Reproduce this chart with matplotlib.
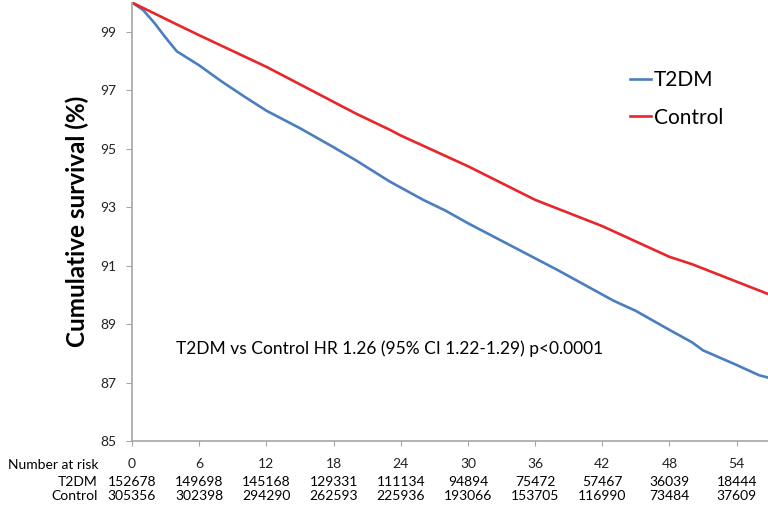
import numpy as np
import matplotlib
matplotlib.use('Agg')
import matplotlib.pyplot as plt
from matplotlib.transforms import blended_transform_factory

plt.rcParams['font.family'] = ['Lato', 'DejaVu Sans']

# survival curves (months, %)
t2dm_t = [0, 1, 2, 3, 4, 6, 8, 10, 12, 13, 15, 18, 20, 23, 26, 28, 30, 33,
          36, 38, 41, 43, 45, 48, 50, 51, 54, 56, 57]
t2dm_s = [100, 99.74, 99.3, 98.8, 98.33, 97.85, 97.3, 96.79, 96.3, 96.1,
          95.7, 95.05, 94.6, 93.88, 93.25, 92.88, 92.45, 91.85, 91.25, 90.85,
          90.22, 89.8, 89.45, 88.8, 88.38, 88.1, 87.6, 87.25, 87.15]
ctrl_t = [0, 4, 6, 12, 18, 20, 23, 24, 30, 36, 41, 42, 44, 48, 50, 54, 57]
ctrl_s = [100, 99.25, 98.88, 97.8, 96.6, 96.2, 95.65, 95.45, 94.4, 93.25,
          92.5, 92.35, 92.0, 91.3, 91.05, 90.45, 90.0]

months = [0, 6, 12, 18, 24, 30, 36, 42, 48, 54]
risk_t2dm = [152678, 149698, 145168, 129331, 111134, 94894, 75472, 57467, 36039, 18444]
risk_ctrl = [305356, 302398, 294290, 262593, 225936, 193066, 153705, 116990, 73484, 37609]

blue = '#4a7ebf'
red = '#e8262a'
grey = '#a6a6a6'

fig = plt.figure(figsize=(7.68, 5.09), dpi=100)
ax = fig.add_axes([132/768, 1 - 441/509, 1 - 132/768, (441 - 2.5)/509])

ax.plot(t2dm_t, t2dm_s, color=blue, lw=1.9, label='T2DM')
ax.plot(ctrl_t, ctrl_s, color=red, lw=1.9, label='Control')

ax.set_xlim(0, 56.8)
ax.set_ylim(85, 100)
ax.set_yticks(np.arange(85, 100, 2))
ax.set_xticks(months)

for s in ['top', 'right']:
    ax.spines[s].set_visible(False)
for s in ['left', 'bottom']:
    ax.spines[s].set_color(grey)
    ax.spines[s].set_linewidth(1.2)
ax.tick_params(axis='y', direction='out', length=4, color=grey, pad=7,
               labelsize=10, labelcolor='#222222')
ax.tick_params(axis='x', direction='out', length=3.5, color=grey, pad=9,
               labelsize=10, labelcolor='#222222')

ax.set_ylabel('Cumulative survival (%)', fontsize=17.5, fontweight='bold',
               labelpad=8)

ax.legend(loc='upper left', bbox_to_anchor=(630/768, 1 - 70/509),
          bbox_transform=fig.transFigure, frameon=False, fontsize=15,
          handlelength=1.0, handletextpad=0.15, labelspacing=0.85,
          borderpad=0, borderaxespad=0)

ax.text(3.9, 88.15, 'T2DM vs Control HR 1.26 (95% CI 1.22-1.29) p<0.0001',
        fontsize=12.5, va='center', ha='left')

# numbers at risk table
tr = blended_transform_factory(ax.transData, fig.transFigure)
y1 = 1 - 481.5/509
y2 = 1 - 496/509
fig.text(98/768, 1 - 465/509, 'Number at risk', fontsize=10, ha='right', va='center')
fig.text(98/768, y1, 'T2DM', fontsize=10, ha='right', va='center')
fig.text(98/768, y2, 'Control', fontsize=10, ha='right', va='center')
for m, a, b in zip(months, risk_t2dm, risk_ctrl):
    ax.text(m, y1, str(a), transform=tr, fontsize=10, ha='center', va='center')
    ax.text(m, y2, str(b), transform=tr, fontsize=10, ha='center', va='center')

fig.savefig('out.png', dpi=100)
